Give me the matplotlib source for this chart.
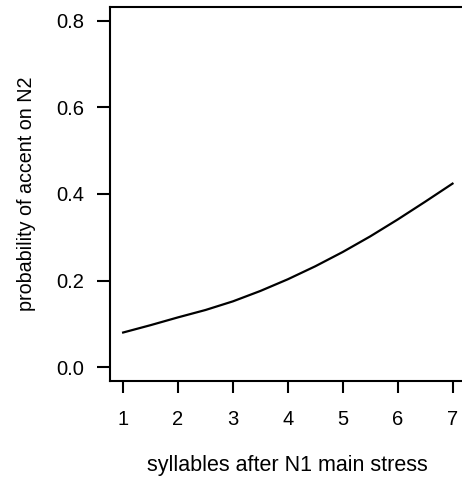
import matplotlib
matplotlib.use('Agg')
import matplotlib.pyplot as plt

# values
syllables = [1, 1.5, 2, 2.5, 3, 3.5, 4, 4.5, 5, 5.5, 6, 6.5, 7]
prob_accent = [0.080, 0.097, 0.115, 0.132, 0.152, 0.176, 0.203, 0.233,
               0.266, 0.302, 0.341, 0.382, 0.424]
x_ticks = [1, 2, 3, 4, 5, 6, 7]
y_ticks = [0.0, 0.2, 0.4, 0.6, 0.8]

plt.rcParams['font.family'] = ['Liberation Sans', 'DejaVu Sans']

fig = plt.figure(figsize=(4.62, 4.79), dpi=100)
ax = fig.add_axes([0.238, 0.2046, 0.77, 0.7808])

ax.plot(syllables, prob_accent, color='black', linewidth=1.6)

ax.set_xlim(0.76, 7.24)
ax.set_ylim(-0.032, 0.832)
ax.set_xticks(x_ticks)
ax.set_yticks(y_ticks)
ax.set_yticklabels(['%.1f' % v for v in y_ticks])

ax.spines['right'].set_visible(False)
for side in ['left', 'bottom', 'top']:
    ax.spines[side].set_linewidth(1.5)

ax.tick_params(axis='y', direction='out', length=9.4, width=1.5, pad=9, labelsize=14.5)
ax.tick_params(axis='x', direction='out', length=8.6, width=1.5, pad=12, labelsize=14.5)

ax.set_xlabel('syllables after N1 main stress', fontsize=15.5, labelpad=19)
ax.set_ylabel('probability of accent on N2', fontsize=14.2, labelpad=15)

fig.savefig('out.png', dpi=100)
